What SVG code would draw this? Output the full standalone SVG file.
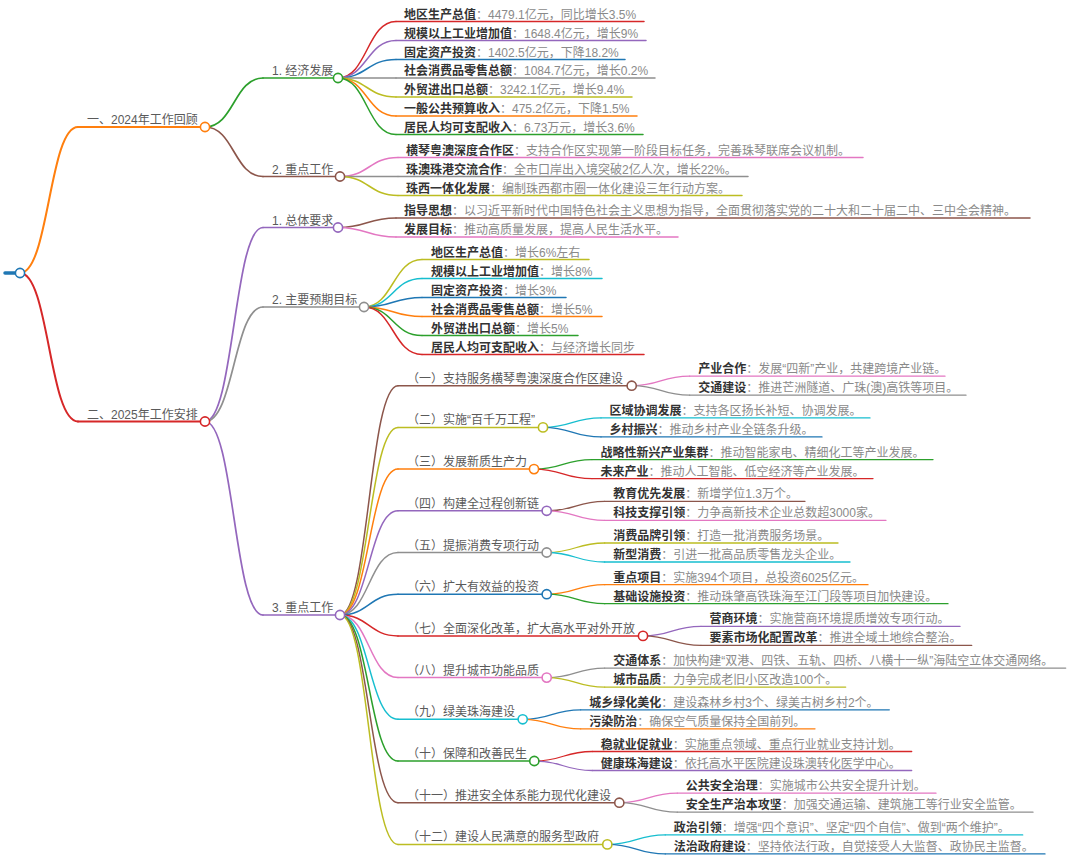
<svg xmlns="http://www.w3.org/2000/svg" width="1080" height="865" viewBox="0 0 1080 865">
<style>
text{font-family:"Liberation Sans","Noto Sans CJK SC",sans-serif;font-size:12px}
.k{font-weight:bold;fill:#333}
.v{fill:#8a8a8a}
.l{fill:#5a5a5a}
path,line{fill:none;stroke-linecap:round}
.c{fill:#fff;stroke-width:1.6}
.d1{stroke-width:2}
.d2{stroke-width:1.7}
.d3{stroke-width:1.5}
.d4{stroke-width:1.3}
.blue{stroke:#1f77b4}.orange{stroke:#ff7f0e}.green{stroke:#2ca02c}.red{stroke:#d62728}.purple{stroke:#9467bd}
.brown{stroke:#8c564b}.pink{stroke:#e377c2}.gray{stroke:#8f8f8f}.olive{stroke:#bcbd22}.cyan{stroke:#17becf}
</style>
<rect width="1080" height="865" fill="#fff"/>
<g id="connectors">
<path class="d1 orange" d="M20,273 C49,273 49,127 78,127"/>
<path class="d1 red" d="M20,273 C49,273 49,421.5 78,421.5"/>
<path class="d2 green" d="M205,127 C234,127 234,78 263,78"/>
<path class="d2 brown" d="M205,127 C234,127 234,176.5 263,176.5"/>
<path class="d2 purple" d="M205,421.5 C234,421.5 234,227.5 263,227.5"/>
<path class="d2 gray" d="M205,421.5 C234,421.5 234,307 263,307"/>
<path class="d2 purple" d="M205,421.5 C234,421.5 234,615 263,615"/>
<path class="d3 red" d="M338,78 C367,78 367,21.5 396,21.5"/>
<path class="d3 purple" d="M338,78 C367,78 367,40.5 396,40.5"/>
<path class="d3 blue" d="M338,78 C367,78 367,59.5 396,59.5"/>
<path class="d3 gray" d="M338,78 L396,78"/>
<path class="d3 olive" d="M338,78 C367,78 367,97 396,97"/>
<path class="d3 orange" d="M338,78 C367,78 367,116 396,116"/>
<path class="d3 green" d="M338,78 C367,78 367,134.5 396,134.5"/>
<path class="d3 pink" d="M340,176.5 C369,176.5 369,157.5 398,157.5"/>
<path class="d3 gray" d="M340,176.5 L398,176.5"/>
<path class="d3 olive" d="M340,176.5 C369,176.5 369,195.5 398,195.5"/>
<path class="d3 brown" d="M338,227.5 C367,227.5 367,218 396,218"/>
<path class="d3 pink" d="M338,227.5 C367,227.5 367,237 396,237"/>
<path class="d3 olive" d="M364,307 C393,307 393,259.5 422,259.5"/>
<path class="d3 cyan" d="M364,307 C393,307 393,278.5 422,278.5"/>
<path class="d3 blue" d="M364,307 C393,307 393,297.5 422,297.5"/>
<path class="d3 orange" d="M364,307 C393,307 393,316.5 422,316.5"/>
<path class="d3 green" d="M364,307 C393,307 393,335.5 422,335.5"/>
<path class="d3 red" d="M364,307 C393,307 393,354.5 422,354.5"/>
<path class="d3 brown" d="M340,615 C369,615 369,385.7 398,385.7"/>
<path class="d3 olive" d="M340,615 C369,615 369,427.4 398,427.4"/>
<path class="d3 orange" d="M340,615 C369,615 369,469.1 398,469.1"/>
<path class="d3 purple" d="M340,615 C369,615 369,510.8 398,510.8"/>
<path class="d3 gray" d="M340,615 C369,615 369,552.5 398,552.5"/>
<path class="d3 blue" d="M340,615 C369,615 369,594.2 398,594.2"/>
<path class="d3 red" d="M340,615 C369,615 369,635.9 398,635.9"/>
<path class="d3 pink" d="M340,615 C369,615 369,677.6 398,677.6"/>
<path class="d3 cyan" d="M340,615 C369,615 369,719.3 398,719.3"/>
<path class="d3 green" d="M340,615 C369,615 369,761 398,761"/>
<path class="d3 brown" d="M340,615 C369,615 369,802.7 398,802.7"/>
<path class="d3 olive" d="M340,615 C369,615 369,844.4 398,844.4"/>
<path class="d4 pink" d="M631.7,385.7 C660.7,385.7 660.7,376.2 689.7,376.2"/>
<path class="d4 gray" d="M631.7,385.7 C660.7,385.7 660.7,395.2 689.7,395.2"/>
<path class="d4 cyan" d="M543,427.4 C572,427.4 572,417.9 601,417.9"/>
<path class="d4 blue" d="M543,427.4 C572,427.4 572,436.9 601,436.9"/>
<path class="d4 green" d="M534,469.1 C563,469.1 563,459.6 592,459.6"/>
<path class="d4 red" d="M534,469.1 C563,469.1 563,478.6 592,478.6"/>
<path class="d4 brown" d="M546.7,510.8 C575.7,510.8 575.7,501.3 604.7,501.3"/>
<path class="d4 pink" d="M546.7,510.8 C575.7,510.8 575.7,520.3 604.7,520.3"/>
<path class="d4 olive" d="M546.7,552.5 C575.7,552.5 575.7,543 604.7,543"/>
<path class="d4 cyan" d="M546.7,552.5 C575.7,552.5 575.7,562 604.7,562"/>
<path class="d4 orange" d="M546.7,594.2 C575.7,594.2 575.7,584.7 604.7,584.7"/>
<path class="d4 green" d="M546.7,594.2 C575.7,594.2 575.7,603.7 604.7,603.7"/>
<path class="d4 purple" d="M643,635.9 C672,635.9 672,626.4 701,626.4"/>
<path class="d4 brown" d="M643,635.9 C672,635.9 672,645.4 701,645.4"/>
<path class="d4 gray" d="M546.7,677.6 C575.7,677.6 575.7,668.1 604.7,668.1"/>
<path class="d4 olive" d="M546.7,677.6 C575.7,677.6 575.7,687.1 604.7,687.1"/>
<path class="d4 blue" d="M522.7,719.3 C551.7,719.3 551.7,709.8 580.7,709.8"/>
<path class="d4 orange" d="M522.7,719.3 C551.7,719.3 551.7,728.8 580.7,728.8"/>
<path class="d4 red" d="M534.3,761 C563.3,761 563.3,751.5 592.3,751.5"/>
<path class="d4 purple" d="M534.3,761 C563.3,761 563.3,770.5 592.3,770.5"/>
<path class="d4 pink" d="M619.3,802.7 C648.3,802.7 648.3,793.2 677.3,793.2"/>
<path class="d4 gray" d="M619.3,802.7 C648.3,802.7 648.3,812.2 677.3,812.2"/>
<path class="d4 cyan" d="M607.3,844.4 C636.3,844.4 636.3,834.9 665.3,834.9"/>
<path class="d4 blue" d="M607.3,844.4 C636.3,844.4 636.3,853.9 665.3,853.9"/>
</g>

<g id="root">
<line x1="5" y1="273" x2="15" y2="273" stroke="#1f77b4" stroke-width="3.5"/>
<circle class="c blue" cx="20" cy="273" r="4.6"/>
</g>

<g id="n1">
<line class="d1 orange" x1="78" y1="127" x2="205" y2="127"/>
<text class="l" x="87" y="124">一、2024年工作回顾</text>
<circle class="c orange" cx="205" cy="127" r="4.6"/>
</g>
<g id="n2">
<line class="d1 red" x1="78" y1="421.5" x2="205" y2="421.5"/>
<text class="l" x="87" y="418.5">二、2025年工作安排</text>
<circle class="c red" cx="205" cy="421.5" r="4.6"/>
</g>

<g id="n1-1">
<line class="d2 green" x1="263" y1="78" x2="338" y2="78"/>
<text class="l" x="272" y="75">1. 经济发展</text>
<circle class="c green" cx="338" cy="78" r="4.6"/>
</g>
<g id="n1-2">
<line class="d2 brown" x1="263" y1="176.5" x2="340" y2="176.5"/>
<text class="l" x="272" y="173.5">2. 重点工作</text>
<circle class="c brown" cx="340" cy="176.5" r="4.6"/>
</g>
<g id="n2-1">
<line class="d2 purple" x1="263" y1="227.5" x2="338" y2="227.5"/>
<text class="l" x="272" y="224.5">1. 总体要求</text>
<circle class="c purple" cx="338" cy="227.5" r="4.6"/>
</g>
<g id="n2-2">
<line class="d2 gray" x1="263" y1="307" x2="364" y2="307"/>
<text class="l" x="272" y="304">2. 主要预期目标</text>
<circle class="c gray" cx="364" cy="307" r="4.6"/>
</g>
<g id="n2-3">
<line class="d2 purple" x1="263" y1="615" x2="340" y2="615"/>
<text class="l" x="272" y="612">3. 重点工作</text>
<circle class="c purple" cx="340" cy="615" r="4.6"/>
</g>

<g id="n1-1-1"><line class="d3 red" x1="396" y1="21.5" x2="644" y2="21.5"/><text x="404" y="18.5"><tspan class="k">地区生产总值</tspan><tspan class="v">：4479.1亿元，同比增长3.5%</tspan></text></g>
<g id="n1-1-2"><line class="d3 purple" x1="396" y1="40.5" x2="646" y2="40.5"/><text x="404" y="37.5"><tspan class="k">规模以上工业增加值</tspan><tspan class="v">：1648.4亿元，增长9%</tspan></text></g>
<g id="n1-1-3"><line class="d3 blue" x1="396" y1="59.5" x2="625" y2="59.5"/><text x="404" y="56.5"><tspan class="k">固定资产投资</tspan><tspan class="v">：1402.5亿元，下降18.2%</tspan></text></g>
<g id="n1-1-4"><line class="d3 gray" x1="396" y1="78" x2="655" y2="78"/><text x="404" y="75"><tspan class="k">社会消费品零售总额</tspan><tspan class="v">：1084.7亿元，增长0.2%</tspan></text></g>
<g id="n1-1-5"><line class="d3 olive" x1="396" y1="97" x2="632" y2="97"/><text x="404" y="94"><tspan class="k">外贸进出口总额</tspan><tspan class="v">：3242.1亿元，增长9.4%</tspan></text></g>
<g id="n1-1-6"><line class="d3 orange" x1="396" y1="116" x2="637" y2="116"/><text x="404" y="113"><tspan class="k">一般公共预算收入</tspan><tspan class="v">：475.2亿元，下降1.5%</tspan></text></g>
<g id="n1-1-7"><line class="d3 green" x1="396" y1="134.5" x2="643" y2="134.5"/><text x="404" y="131.5"><tspan class="k">居民人均可支配收入</tspan><tspan class="v">：6.73万元，增长3.6%</tspan></text></g>

<g id="n1-2-1"><line class="d3 pink" x1="398" y1="157.5" x2="863" y2="157.5"/><text x="406" y="154.5"><tspan class="k">横琴粤澳深度合作区</tspan><tspan class="v">：支持合作区实现第一阶段目标任务，完善珠琴联席会议机制。</tspan></text></g>
<g id="n1-2-2"><line class="d3 gray" x1="398" y1="176.5" x2="748" y2="176.5"/><text x="406" y="173.5"><tspan class="k">珠澳珠港交流合作</tspan><tspan class="v">：全市口岸出入境突破2亿人次，增长22%。</tspan></text></g>
<g id="n1-2-3"><line class="d3 olive" x1="398" y1="195.5" x2="742" y2="195.5"/><text x="406" y="192.5"><tspan class="k">珠西一体化发展</tspan><tspan class="v">：编制珠西都市圈一体化建设三年行动方案。</tspan></text></g>

<g id="n2-1-1"><line class="d3 brown" x1="396" y1="218" x2="1030" y2="218"/><text x="404" y="215"><tspan class="k">指导思想</tspan><tspan class="v">：以习近平新时代中国特色社会主义思想为指导，全面贯彻落实党的二十大和二十届二中、三中全会精神。</tspan></text></g>
<g id="n2-1-2"><line class="d3 pink" x1="396" y1="237" x2="678" y2="237"/><text x="404" y="234"><tspan class="k">发展目标</tspan><tspan class="v">：推动高质量发展，提高人民生活水平。</tspan></text></g>

<g id="n2-2-1"><line class="d3 olive" x1="422" y1="259.5" x2="589" y2="259.5"/><text x="431" y="256.5"><tspan class="k">地区生产总值</tspan><tspan class="v">：增长6%左右</tspan></text></g>
<g id="n2-2-2"><line class="d3 cyan" x1="422" y1="278.5" x2="602" y2="278.5"/><text x="431" y="275.5"><tspan class="k">规模以上工业增加值</tspan><tspan class="v">：增长8%</tspan></text></g>
<g id="n2-2-3"><line class="d3 blue" x1="422" y1="297.5" x2="566" y2="297.5"/><text x="431" y="294.5"><tspan class="k">固定资产投资</tspan><tspan class="v">：增长3%</tspan></text></g>
<g id="n2-2-4"><line class="d3 orange" x1="422" y1="316.5" x2="602" y2="316.5"/><text x="431" y="313.5"><tspan class="k">社会消费品零售总额</tspan><tspan class="v">：增长5%</tspan></text></g>
<g id="n2-2-5"><line class="d3 green" x1="422" y1="335.5" x2="578" y2="335.5"/><text x="431" y="332.5"><tspan class="k">外贸进出口总额</tspan><tspan class="v">：增长5%</tspan></text></g>
<g id="n2-2-6"><line class="d3 red" x1="422" y1="354.5" x2="644" y2="354.5"/><text x="431" y="351.5"><tspan class="k">居民人均可支配收入</tspan><tspan class="v">：与经济增长同步</tspan></text></g>

<g id="n2-3-1"><line class="d3 brown" x1="398" y1="385.7" x2="631.7" y2="385.7"/><text class="l" x="407" y="382.7">（一）支持服务横琴粤澳深度合作区建设</text><circle class="c brown" cx="631.7" cy="385.7" r="4.6"/></g>
<g id="n2-3-2"><line class="d3 olive" x1="398" y1="427.4" x2="543" y2="427.4"/><text class="l" x="407" y="424.4">（二）实施“百千万工程”</text><circle class="c olive" cx="543" cy="427.4" r="4.6"/></g>
<g id="n2-3-3"><line class="d3 orange" x1="398" y1="469.1" x2="534" y2="469.1"/><text class="l" x="407" y="466.1">（三）发展新质生产力</text><circle class="c orange" cx="534" cy="469.1" r="4.6"/></g>
<g id="n2-3-4"><line class="d3 purple" x1="398" y1="510.8" x2="546.7" y2="510.8"/><text class="l" x="407" y="507.8">（四）构建全过程创新链</text><circle class="c purple" cx="546.7" cy="510.8" r="4.6"/></g>
<g id="n2-3-5"><line class="d3 gray" x1="398" y1="552.5" x2="546.7" y2="552.5"/><text class="l" x="407" y="549.5">（五）提振消费专项行动</text><circle class="c gray" cx="546.7" cy="552.5" r="4.6"/></g>
<g id="n2-3-6"><line class="d3 blue" x1="398" y1="594.2" x2="546.7" y2="594.2"/><text class="l" x="407" y="591.2">（六）扩大有效益的投资</text><circle class="c blue" cx="546.7" cy="594.2" r="4.6"/></g>
<g id="n2-3-7"><line class="d3 red" x1="398" y1="635.9" x2="643" y2="635.9"/><text class="l" x="407" y="632.9">（七）全面深化改革，扩大高水平对外开放</text><circle class="c red" cx="643" cy="635.9" r="4.6"/></g>
<g id="n2-3-8"><line class="d3 pink" x1="398" y1="677.6" x2="546.7" y2="677.6"/><text class="l" x="407" y="674.6">（八）提升城市功能品质</text><circle class="c pink" cx="546.7" cy="677.6" r="4.6"/></g>
<g id="n2-3-9"><line class="d3 cyan" x1="398" y1="719.3" x2="522.7" y2="719.3"/><text class="l" x="407" y="716.3">（九）绿美珠海建设</text><circle class="c cyan" cx="522.7" cy="719.3" r="4.6"/></g>
<g id="n2-3-10"><line class="d3 green" x1="398" y1="761" x2="534.3" y2="761"/><text class="l" x="407" y="758">（十）保障和改善民生</text><circle class="c green" cx="534.3" cy="761" r="4.6"/></g>
<g id="n2-3-11"><line class="d3 brown" x1="398" y1="802.7" x2="619.3" y2="802.7"/><text class="l" x="407" y="799.7">（十一）推进安全体系能力现代化建设</text><circle class="c brown" cx="619.3" cy="802.7" r="4.6"/></g>
<g id="n2-3-12"><line class="d3 olive" x1="398" y1="844.4" x2="607.3" y2="844.4"/><text class="l" x="407" y="841.4">（十二）建设人民满意的服务型政府</text><circle class="c olive" cx="607.3" cy="844.4" r="4.6"/></g>

<g id="n2-3-1-1"><line class="d4 pink" x1="689.7" y1="376.2" x2="945" y2="376.2"/><text x="698.2" y="373.2"><tspan class="k">产业合作</tspan><tspan class="v">：发展“四新”产业，共建跨境产业链。</tspan></text></g>
<g id="n2-3-1-2"><line class="d4 gray" x1="689.7" y1="395.2" x2="966" y2="395.2"/><text x="698.2" y="392.2"><tspan class="k">交通建设</tspan><tspan class="v">：推进芒洲隧道、广珠(澳)高铁等项目。</tspan></text></g>
<g id="n2-3-2-1"><line class="d4 cyan" x1="601" y1="417.9" x2="870" y2="417.9"/><text x="609.5" y="414.9"><tspan class="k">区域协调发展</tspan><tspan class="v">：支持各区扬长补短、协调发展。</tspan></text></g>
<g id="n2-3-2-2"><line class="d4 blue" x1="601" y1="436.9" x2="822" y2="436.9"/><text x="609.5" y="433.9"><tspan class="k">乡村振兴</tspan><tspan class="v">：推动乡村产业全链条升级。</tspan></text></g>
<g id="n2-3-3-1"><line class="d4 green" x1="592" y1="459.6" x2="933" y2="459.6"/><text x="600.5" y="456.6"><tspan class="k">战略性新兴产业集群</tspan><tspan class="v">：推动智能家电、精细化工等产业发展。</tspan></text></g>
<g id="n2-3-3-2"><line class="d4 red" x1="592" y1="478.6" x2="873" y2="478.6"/><text x="600.5" y="475.6"><tspan class="k">未来产业</tspan><tspan class="v">：推动人工智能、低空经济等产业发展。</tspan></text></g>
<g id="n2-3-4-1"><line class="d4 brown" x1="604.7" y1="501.3" x2="805" y2="501.3"/><text x="613.2" y="498.3"><tspan class="k">教育优先发展</tspan><tspan class="v">：新增学位1.3万个。</tspan></text></g>
<g id="n2-3-4-2"><line class="d4 pink" x1="604.7" y1="520.3" x2="886" y2="520.3"/><text x="613.2" y="517.3"><tspan class="k">科技支撑引领</tspan><tspan class="v">：力争高新技术企业总数超3000家。</tspan></text></g>
<g id="n2-3-5-1"><line class="d4 olive" x1="604.7" y1="543" x2="838" y2="543"/><text x="613.2" y="540"><tspan class="k">消费品牌引领</tspan><tspan class="v">：打造一批消费服务场景。</tspan></text></g>
<g id="n2-3-5-2"><line class="d4 cyan" x1="604.7" y1="562" x2="850" y2="562"/><text x="613.2" y="559"><tspan class="k">新型消费</tspan><tspan class="v">：引进一批高品质零售龙头企业。</tspan></text></g>
<g id="n2-3-6-1"><line class="d4 orange" x1="604.7" y1="584.7" x2="868" y2="584.7"/><text x="613.2" y="581.7"><tspan class="k">重点项目</tspan><tspan class="v">：实施394个项目，总投资6025亿元。</tspan></text></g>
<g id="n2-3-6-2"><line class="d4 green" x1="604.7" y1="603.7" x2="948" y2="603.7"/><text x="613.2" y="600.7"><tspan class="k">基础设施投资</tspan><tspan class="v">：推动珠肇高铁珠海至江门段等项目加快建设。</tspan></text></g>
<g id="n2-3-7-1"><line class="d4 purple" x1="701" y1="626.4" x2="960" y2="626.4"/><text x="709.5" y="623.4"><tspan class="k">营商环境</tspan><tspan class="v">：实施营商环境提质增效专项行动。</tspan></text></g>
<g id="n2-3-7-2"><line class="d4 brown" x1="701" y1="645.4" x2="971.7" y2="645.4"/><text x="709.5" y="642.4"><tspan class="k">要素市场化配置改革</tspan><tspan class="v">：推进全域土地综合整治。</tspan></text></g>
<g id="n2-3-8-1"><line class="d4 gray" x1="604.7" y1="668.1" x2="1065.7" y2="668.1"/><text x="613.2" y="665.1"><tspan class="k">交通体系</tspan><tspan class="v">：加快构建“双港、四铁、五轨、四桥、八横十一纵”海陆空立体交通网络。</tspan></text></g>
<g id="n2-3-8-2"><line class="d4 olive" x1="604.7" y1="687.1" x2="845.7" y2="687.1"/><text x="613.2" y="684.1"><tspan class="k">城市品质</tspan><tspan class="v">：力争完成老旧小区改造100个。</tspan></text></g>
<g id="n2-3-9-1"><line class="d4 blue" x1="580.7" y1="709.8" x2="889.3" y2="709.8"/><text x="589.2" y="706.8"><tspan class="k">城乡绿化美化</tspan><tspan class="v">：建设森林乡村3个、绿美古树乡村2个。</tspan></text></g>
<g id="n2-3-9-2"><line class="d4 orange" x1="580.7" y1="728.8" x2="815" y2="728.8"/><text x="589.2" y="725.8"><tspan class="k">污染防治</tspan><tspan class="v">：确保空气质量保持全国前列。</tspan></text></g>
<g id="n2-3-10-1"><line class="d4 red" x1="592.3" y1="751.5" x2="911.7" y2="751.5"/><text x="600.8" y="748.5"><tspan class="k">稳就业促就业</tspan><tspan class="v">：实施重点领域、重点行业就业支持计划。</tspan></text></g>
<g id="n2-3-10-2"><line class="d4 purple" x1="592.3" y1="770.5" x2="911.7" y2="770.5"/><text x="600.8" y="767.5"><tspan class="k">健康珠海建设</tspan><tspan class="v">：依托高水平医院建设珠澳转化医学中心。</tspan></text></g>
<g id="n2-3-11-1"><line class="d4 pink" x1="677.3" y1="793.2" x2="936" y2="793.2"/><text x="685.8" y="790.2"><tspan class="k">公共安全治理</tspan><tspan class="v">：实施城市公共安全提升计划。</tspan></text></g>
<g id="n2-3-11-2"><line class="d4 gray" x1="677.3" y1="812.2" x2="1033" y2="812.2"/><text x="685.8" y="809.2"><tspan class="k">安全生产治本攻坚</tspan><tspan class="v">：加强交通运输、建筑施工等行业安全监管。</tspan></text></g>
<g id="n2-3-12-1"><line class="d4 cyan" x1="665.3" y1="834.9" x2="1022.7" y2="834.9"/><text x="673.8" y="831.9"><tspan class="k">政治引领</tspan><tspan class="v">：增强“四个意识”、坚定“四个自信”、做到“两个维护”。</tspan></text></g>
<g id="n2-3-12-2"><line class="d4 blue" x1="665.3" y1="853.9" x2="1045" y2="853.9"/><text x="673.8" y="850.9"><tspan class="k">法治政府建设</tspan><tspan class="v">：坚持依法行政，自觉接受人大监督、政协民主监督。</tspan></text></g>
</svg>
